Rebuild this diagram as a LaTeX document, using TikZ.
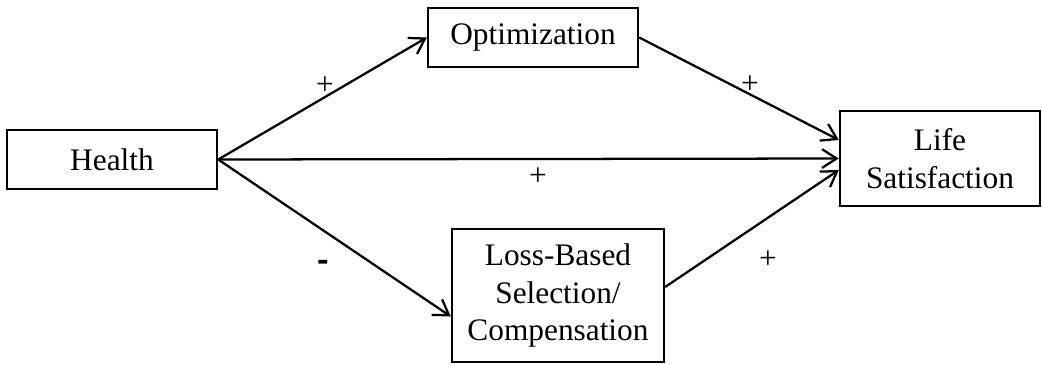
\documentclass[tikz,border=0pt]{standalone}
\usepackage{fontspec}
\setmainfont{Liberation Serif}
\newfontfamily\signfont{Carlito}
\usetikzlibrary{arrows.meta}
\begin{document}
\begin{tikzpicture}[x=0.75pt,y=-0.75pt,
  every node/.style={font=\fontsize{23.5}{28}\selectfont},
  box/.style={draw, line width=1.8pt, inner sep=0pt, align=center},
  link/.style={line width=1.7pt, -{Straight Barb[length=11pt,width=14pt,line width=1.7pt]}},
  sign/.style={inner sep=0pt}]
\useasboundingbox (0,0) rectangle (1042,364);
% variables
\node[box, minimum width=210*0.75pt, minimum height=59*0.75pt] (health) at (112,159.5) {Health};
\node[box, minimum width=210*0.75pt, minimum height=59*0.75pt] (opt) at (533,37.5) {Optimization};
\node[box, minimum width=200*0.75pt, minimum height=95*0.75pt] (life) at (940,158.5) {Life\\Satisfaction};
\node[box, minimum width=212*0.75pt, minimum height=133*0.75pt] (loss) at (558,295.5) {Loss-Based\\Selection/\\Compensation};
% paths
\draw[link] (health.east) -- (opt.west);
\draw[link] (health.east) -- (life.west);
\draw[link] (health.east) -- ([yshift=-15.75pt]loss.west);
\draw[link] (opt.east) -- ([yshift=13.9pt]life.west);
\draw[link] ([yshift=6.4pt]loss.east) -- ([yshift=-8.6pt]life.west);
% signs of the effects
\node[sign] (s1) at (325,86) {+};
\node[sign] (s2) at (323,266.5) {\signfont\bfseries\fontsize{27}{30}\selectfont -};
\node[sign] (s3) at (538,177) {+};
\node[sign] (s4) at (750,85) {+};
\node[sign] (s5) at (768,260) {+};
\end{tikzpicture}
\end{document}
